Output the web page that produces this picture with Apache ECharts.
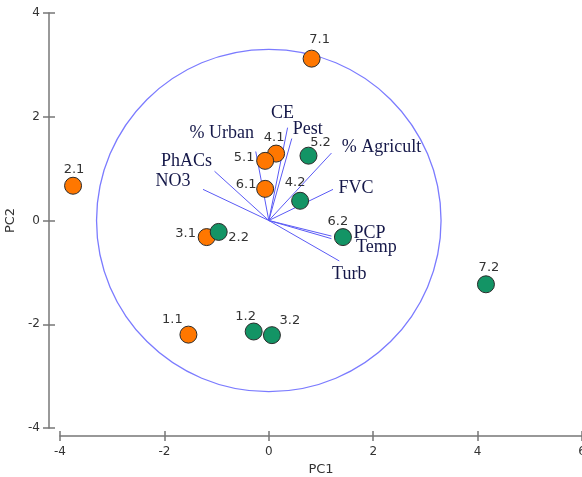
<!DOCTYPE html>
<html>
<head>
<meta charset="utf-8">
<script src="https://cdn.jsdelivr.net/npm/echarts@6/dist/echarts.min.js"></script>
<style>
  html, body { margin: 0; padding: 0; background: #fff; }
  #chart { width: 582px; height: 477px; }
</style>
</head>
<body>
<div id="chart"></div>
<script>
// samples, site x.1 (orange) and x.2 (green)
const orangeNames = ['1.1', '2.1', '3.1', '4.1', '5.1', '6.1', '7.1'];
const orangePC1 = [-1.54, -3.75, -1.19, 0.14, -0.07, -0.07, 0.82];
const orangePC2 = [-2.20, 0.67, -0.32, 1.29, 1.15, 0.61, 3.12];
const greenNames = ['1.2', '2.2', '3.2', '4.2', '5.2', '6.2', '7.2'];
const greenPC1 = [-0.29, -0.96, 0.06, 0.60, 0.76, 1.42, 4.16];
const greenPC2 = [-2.14, -0.22, -2.21, 0.38, 1.25, -0.32, -1.23];

// loading vectors
const varNames = ['NO3', 'PhACs', '% Urban', 'CE', 'Pest', '% Agricult', 'FVC', 'PCP', 'Temp', 'Turb'];
const varPC1 = [-1.26, -1.04, -0.25, 0.36, 0.44, 1.20, 1.23, 1.20, 1.20, 1.35];
const varPC2 = [0.60, 0.95, 1.33, 1.79, 1.58, 1.30, 0.60, -0.30, -0.35, -0.78];

const circleRadius = 3.3;
const xTicks = [-4, 6, 2];
const yTicks = [-4, 4, 2];

// label placement (pixels, relative to the point)
const sampleLabelOffset = {
  '1.1': [-16, -15], '2.1': [1, -16], '3.1': [-21, -3], '4.1': [-2, -16],
  '5.1': [-21, -3], '6.1': [-19, -4], '7.1': [8, -19],
  '1.2': [-8, -15], '2.2': [20, 6], '3.2': [18, -15], '4.2': [-5, -18],
  '5.2': [12, -13], '6.2': [-5, -15], '7.2': [3, -17]
};
const varLabelOffset = {
  'NO3': [-30, -8], 'PhACs': [-28, -10], '% Urban': [-34, -18], 'CE': [-5, -14],
  'Pest': [16, -9], '% Agricult': [50, -6], 'FVC': [23, -1], 'PCP': [38, -3],
  'Temp': [45, 9], 'Turb': [10, 13]
};

const axisColor = '#777';
const textColor = '#333';
const vecColor = '#5a5af5';
const navy = '#151849';

function samplePoints(names, xs, ys) {
  return names.map((n, i) => ({
    name: n,
    value: [xs[i], ys[i]],
    label: { offset: sampleLabelOffset[n] }
  }));
}

const chart = echarts.init(document.getElementById('chart'));

const baseX = {
  type: 'value', min: xTicks[0], max: xTicks[1], interval: xTicks[2],
  position: 'bottom', offset: 8, splitLine: { show: false }
};
const baseY = {
  type: 'value', min: yTicks[0], max: yTicks[1], interval: yTicks[2],
  position: 'left', offset: 11, splitLine: { show: false }
};

const sampleLabel = {
  show: true, position: 'inside', formatter: '{b}',
  color: textColor, fontSize: 13, fontFamily: 'DejaVu Sans'
};

const option = {
  animation: false,
  grid: { left: 60, right: 0, top: 13, bottom: 49, containLabel: false, outerBoundsMode: 'none' },
  xAxis: [
    Object.assign({}, baseX, {
      axisLine: { show: true, onZero: false, lineStyle: { color: axisColor, width: 1.5 } },
      axisTick: { show: true, length: 5, lineStyle: { color: axisColor, width: 1.5 } },
      axisLabel: { margin: 10, color: textColor, fontSize: 12, fontFamily: 'DejaVu Sans' },
      name: 'PC1', nameLocation: 'middle', nameGap: 27,
      nameTextStyle: { color: textColor, fontSize: 13, fontFamily: 'DejaVu Sans' }
    }),
    Object.assign({}, baseX, {
      axisLine: { show: false, onZero: false },
      axisTick: { show: true, inside: true, length: 5, lineStyle: { color: axisColor, width: 1.5 } },
      axisLabel: { show: false }
    })
  ],
  yAxis: [
    Object.assign({}, baseY, {
      axisLine: { show: true, onZero: false, lineStyle: { color: axisColor, width: 1.5 } },
      axisTick: { show: true, length: 6, lineStyle: { color: axisColor, width: 1.5 } },
      axisLabel: { margin: 9, color: textColor, fontSize: 12, fontFamily: 'DejaVu Sans' },
      name: 'PC2', nameLocation: 'middle', nameGap: 30,
      nameTextStyle: { color: textColor, fontSize: 13, fontFamily: 'DejaVu Sans' }
    }),
    Object.assign({}, baseY, {
      axisLine: { show: false, onZero: false },
      axisTick: { show: true, inside: true, length: 6, lineStyle: { color: axisColor, width: 1.5 } },
      axisLabel: { show: false }
    })
  ],
  series: [
    {
      // correlation circle
      type: 'custom',
      z: 1,
      silent: true,
      data: [[0, 0, circleRadius]],
      renderItem: function (params, api) {
        const c = api.coord([api.value(0), api.value(1)]);
        const s = api.size([api.value(2), api.value(2)]);
        return {
          type: 'ellipse',
          shape: { cx: c[0], cy: c[1], rx: s[0], ry: s[1] },
          style: { fill: 'none', stroke: '#7b7bff', lineWidth: 1.3 }
        };
      }
    },
    {
      // loading vectors
      type: 'lines',
      coordinateSystem: 'cartesian2d',
      z: 2,
      silent: true,
      lineStyle: { color: vecColor, width: 1, opacity: 1 },
      data: varNames.map((n, i) => ({ coords: [[0, 0], [varPC1[i], varPC2[i]]] }))
    },
    {
      // loading names
      type: 'scatter',
      z: 3,
      silent: true,
      symbolSize: 1,
      itemStyle: { color: 'transparent', opacity: 1 },
      label: {
        show: true, position: 'inside', formatter: '{b}',
        color: navy, fontSize: 18, fontFamily: 'Liberation Serif'
      },
      data: varNames.map((n, i) => ({
        name: n, value: [varPC1[i], varPC2[i]],
        label: { offset: varLabelOffset[n] }
      }))
    },
    {
      type: 'scatter',
      z: 5,
      silent: true,
      symbolSize: 17,
      itemStyle: { color: '#ff7700', borderColor: '#2b2b2b', borderWidth: 1, opacity: 1 },
      label: sampleLabel,
      data: samplePoints(orangeNames, orangePC1, orangePC2)
    },
    {
      type: 'scatter',
      z: 5,
      silent: true,
      symbolSize: 17,
      itemStyle: { color: '#139465', borderColor: '#2b2b2b', borderWidth: 1, opacity: 1 },
      label: sampleLabel,
      data: samplePoints(greenNames, greenPC1, greenPC2)
    }
  ]
};

chart.setOption(option);
window.addEventListener('resize', () => chart.resize());
</script>
</body>
</html>
